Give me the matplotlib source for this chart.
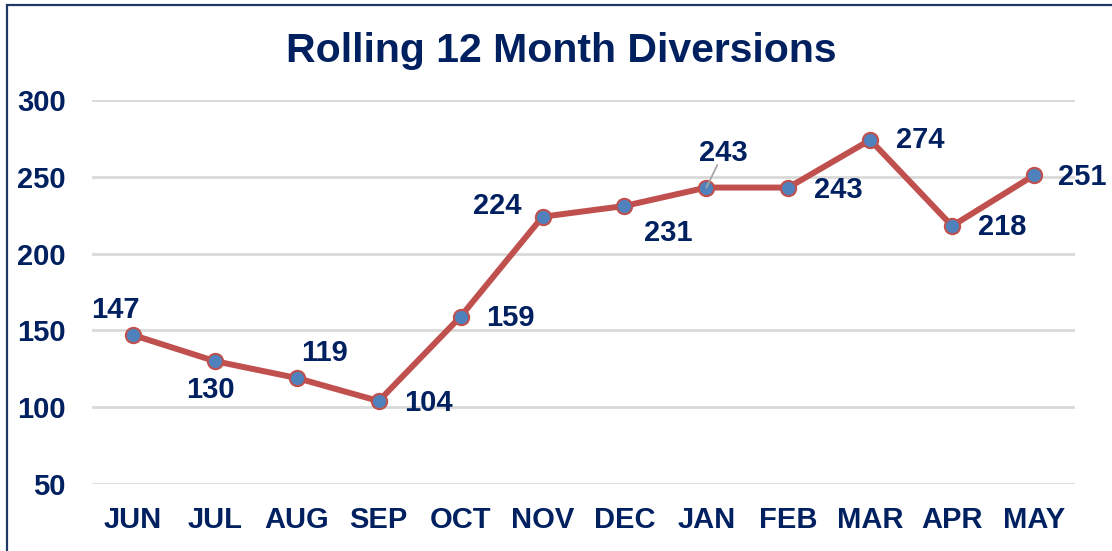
import matplotlib.pyplot as plt
from matplotlib.patches import Rectangle

plt.rcParams['font.family'] = ['Liberation Sans', 'DejaVu Sans']

months = ["JUN", "JUL", "AUG", "SEP", "OCT", "NOV", "DEC", "JAN", "FEB", "MAR", "APR", "MAY"]
diversions = [147, 130, 119, 104, 159, 224, 231, 243, 243, 274, 218, 251]
y_ticks = [50, 100, 150, 200, 250, 300]

navy = "#002060"
line_red = "#C0504D"
dot_blue = "#4F81BD"

# label offsets in pixels (dx, dy) so labels sit like in the original
offsets = [(-18, 25), (-4, -29), (28, 25), (50, -2), (50, -1), (-45, 11),
           (44, -27), (17, 35), (50, -2), (50, 0), (50, -1), (48, -2)]

fig = plt.figure(figsize=(11.12, 5.51), dpi=100)
ax = fig.add_axes([92 / 1112, 1 - 484 / 551, (1075 - 92) / 1112, (484 - 100) / 551])

x = list(range(len(months)))
ax.plot(x, diversions, color=line_red, lw=4.3, marker="o", markersize=11,
        markerfacecolor=dot_blue, markeredgecolor=line_red, markeredgewidth=1.5,
        solid_capstyle="round", zorder=3)

for i, v in enumerate(diversions):
    dx, dy = offsets[i]
    if i == 7:
        # JAN label sits off the point with a small leader line
        ax.annotate(str(v), (i, v), xytext=(dx, dy), textcoords="offset pixels",
                    ha="center", va="center", fontsize=21, fontweight="bold", color=navy,
                    arrowprops=dict(arrowstyle="-", color="#a6a6a6", lw=1.3,
                                    patchA=None, shrinkA=10, shrinkB=0), zorder=4)
    else:
        ax.annotate(str(v), (i, v), xytext=(dx, dy), textcoords="offset pixels",
                    ha="center", va="center", fontsize=21, fontweight="bold", color=navy)

ax.set_xlim(-0.5, len(months) - 0.5)
ax.set_ylim(50, 300)
ax.set_yticks(y_ticks)
ax.set_xticks(x)
ax.set_xticklabels(months)
ax.grid(axis="y", color="#d9d9d9", lw=2)
ax.set_axisbelow(True)
for s in ax.spines.values():
    s.set_visible(False)
ax.tick_params(length=0, labelsize=21, labelcolor=navy, pad=19)
ax.tick_params(axis="x", pad=16)
for lbl in ax.get_xticklabels() + ax.get_yticklabels():
    lbl.set_fontweight("bold")

fig.text(0.505, 1 - 51 / 551, "Rolling 12 Month Diversions", ha="center", va="center",
         fontsize=29.5, fontweight="bold", color=navy)

# chart border (only left and top edges fall inside the picture)
fig.patches.append(Rectangle((7 / 1112, -0.05), 1.1, 1 - 5 / 551 + 0.05,
                             transform=fig.transFigure, fill=False,
                             edgecolor="#1F3864", lw=1.6))

fig.savefig("out.png", dpi=100)
